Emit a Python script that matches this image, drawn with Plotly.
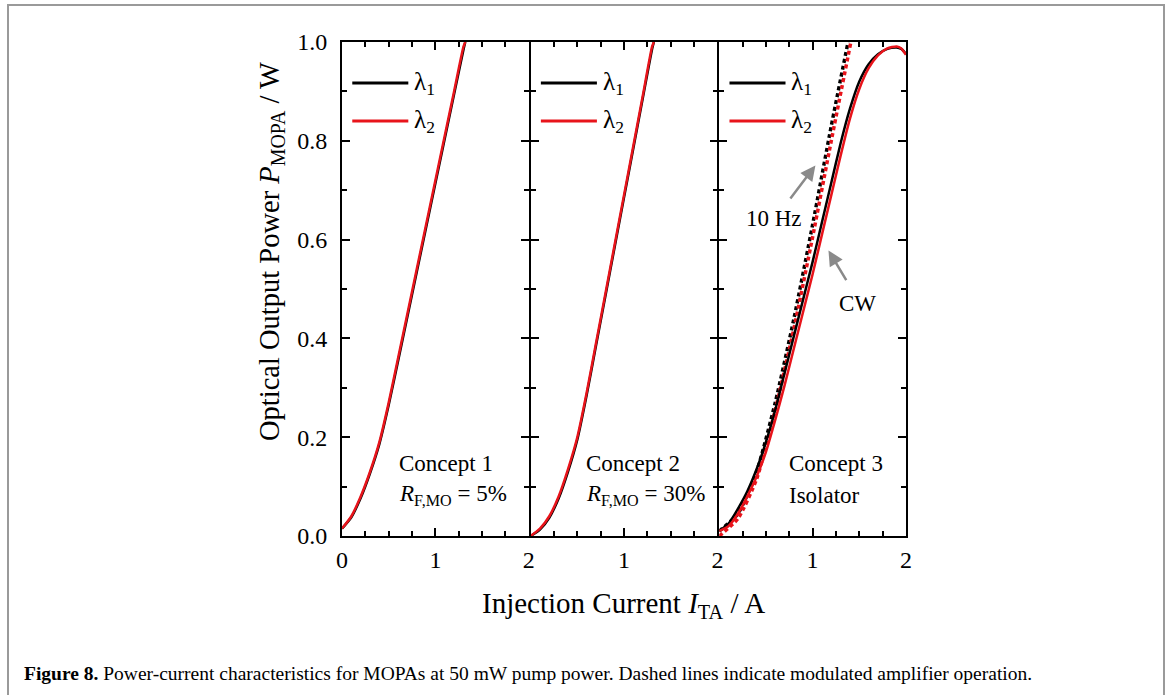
import plotly.graph_objects as go

# ---------------- data ----------------
# Panel 1: Concept 1 (R_F,MO = 5%)
c1_I = [0.0, 0.1, 0.2, 0.3, 0.4, 0.5, 0.6, 0.7, 0.8, 0.9, 1.0, 1.1, 1.2, 1.3, 1.32]
c1_P_l1 = [0.015, 0.038, 0.077, 0.127, 0.186, 0.265, 0.354, 0.444, 0.534, 0.624, 0.714, 0.804, 0.894, 0.984, 1.0]
c1_P_l2 = [0.015, 0.040, 0.080, 0.130, 0.190, 0.270, 0.360, 0.450, 0.540, 0.630, 0.720, 0.810, 0.900, 0.990, 1.0]

# Panel 2: Concept 2 (R_F,MO = 30%)
c2_I = [0.0, 0.1, 0.2, 0.3, 0.4, 0.5, 0.6, 0.7, 0.8, 0.9, 1.0, 1.1, 1.2, 1.3, 1.32]
c2_P_l1 = [0.0, 0.013, 0.037, 0.076, 0.130, 0.195, 0.285, 0.385, 0.485, 0.585, 0.685, 0.785, 0.885, 0.985, 1.0]
c2_P_l2 = [0.0, 0.015, 0.040, 0.080, 0.135, 0.200, 0.290, 0.390, 0.490, 0.590, 0.690, 0.790, 0.890, 0.990, 1.0]

# Panel 3: Concept 3 (Isolator), CW
c3_I = [0.0, 0.1, 0.2, 0.3, 0.4, 0.5, 0.6, 0.7, 0.8, 0.9, 1.0, 1.1, 1.2, 1.3, 1.4,
        1.5, 1.6, 1.7, 1.8, 1.9, 1.95, 2.0]
c3_cw_l1 = [0.01, 0.025, 0.055, 0.09, 0.135, 0.19, 0.255, 0.33, 0.405, 0.48, 0.555, 0.635,
            0.715, 0.795, 0.865, 0.92, 0.955, 0.975, 0.986, 0.989, 0.986, 0.976]
c3_cw_l2 = [0.01, 0.02, 0.045, 0.08, 0.12, 0.17, 0.235, 0.305, 0.38, 0.455, 0.53, 0.61,
            0.69, 0.77, 0.845, 0.905, 0.947, 0.973, 0.987, 0.991, 0.987, 0.974]

# Panel 3: 10 Hz modulated operation (dashed)
c3_mod_I_l1 = [0.0, 0.2, 0.4, 0.6, 0.8, 1.0, 1.2, 1.38]
c3_mod_P_l1 = [0.01, 0.045, 0.13, 0.27, 0.44, 0.63, 0.83, 1.0]
c3_mod_I_l2 = [0.0, 0.2, 0.4, 0.6, 0.8, 1.0, 1.2, 1.41]
c3_mod_P_l2 = [0.0, 0.035, 0.115, 0.255, 0.42, 0.605, 0.80, 1.0]

panel_labels = [("Concept 1", "<i>R</i><sub>F,MO</sub> = 5%"),
                ("Concept 2", "<i>R</i><sub>F,MO</sub> = 30%"),
                ("Concept 3", "Isolator")]
x_tickvals = [[0, 1, 2], [1, 2], [1, 2]]
y_tickvals = [0.0, 0.2, 0.4, 0.6, 0.8, 1.0]
y_ticktext = ["0.0", "0.2", "0.4", "0.6", "0.8", "1.0"]

BLACK = "#000000"
RED = "#e8141b"
FONT = "Liberation Serif"

W, H = 1170, 695
LW = 1.8
# panel pixel extents; gaps of one line width so adjacent axis lines coincide
px_x = [(342, 528.8), (528.8 + LW, 717.4), (717.4 + LW, 906)]
py_top, py_bot = 42, 536

fig = go.Figure()

def add_line(i, x, y, color, dash=None, width=2.5):
    suffix = "" if i == 0 else str(i + 1)
    fig.add_trace(go.Scatter(
        x=x, y=y, mode="lines", xaxis="x" + suffix, yaxis="y" + suffix,
        line=dict(color=color, width=width, shape="spline", smoothing=0.6,
                  dash=dash if dash else "solid"),
        showlegend=False, hoverinfo="skip"))

add_line(0, c1_I, c1_P_l1, BLACK)
add_line(0, c1_I, c1_P_l2, RED)
add_line(1, c2_I, c2_P_l1, BLACK)
add_line(1, c2_I, c2_P_l2, RED)
add_line(2, c3_mod_I_l1, c3_mod_P_l1, BLACK, dash="4px,3px", width=3.5)
add_line(2, c3_mod_I_l2, c3_mod_P_l2, RED, dash="4px,3px", width=3.5)
add_line(2, c3_I, c3_cw_l1, BLACK)
add_line(2, c3_I, c3_cw_l2, RED)

layout = dict(
    template="none",
    width=W, height=H, autosize=False, margin=dict(l=0, r=0, t=0, b=0, pad=0),
    paper_bgcolor="white", plot_bgcolor="white", showlegend=False,
    font=dict(family=FONT, color="black"),
)
ydom = [(H - py_bot) / H, (H - py_top) / H]
minor_x = [0.25, 0.5, 0.75, 1.25, 1.5, 1.75]
minor_y = [0.1, 0.3, 0.5, 0.7, 0.9]
for i in range(3):
    suffix = "" if i == 0 else str(i + 1)
    xd = [px_x[i][0] / W, px_x[i][1] / W]
    layout["xaxis" + suffix] = dict(
        domain=xd, range=[0, 2], anchor="y" + suffix, automargin=False,
        showline=True, linecolor="black", linewidth=LW, mirror="allticks",
        ticks="inside", ticklen=8, tickwidth=2, tickcolor="black",
        tickmode="array", tickvals=x_tickvals[i], ticktext=[str(v) for v in x_tickvals[i]],
        tickfont=dict(family=FONT, size=24, color="black"),
        minor=dict(tickmode="array", tickvals=minor_x, ticks="inside", ticklen=5,
                   tickwidth=2, tickcolor="black", showgrid=False),
        showgrid=False, zeroline=False, fixedrange=True, ticklabelstandoff=1,
    )
    layout["yaxis" + suffix] = dict(
        domain=ydom, range=[0, 1], anchor="x" + suffix, automargin=False,
        showline=True, linecolor="black", linewidth=LW, mirror="allticks",
        ticks="inside", ticklen=8, tickwidth=2, tickcolor="black",
        tickmode="array", tickvals=y_tickvals, ticktext=y_ticktext,
        showticklabels=(i == 0),
        tickfont=dict(family=FONT, size=24, color="black"),
        minor=dict(tickmode="array", tickvals=minor_y, ticks="inside", ticklen=5,
                   tickwidth=2, tickcolor="black", showgrid=False),
        showgrid=False, zeroline=False, fixedrange=True, ticklabelstandoff=8,
    )
fig.update_layout(**layout)

annotations = []
shapes = []
# legends (one per panel)
for i in range(3):
    suffix = "" if i == 0 else str(i + 1)
    for yd, col, lab in [(0.917, BLACK, "λ<sub>1</sub>"), (0.840, RED, "λ<sub>2</sub>")]:
        shapes.append(dict(type="line", xref="x" + suffix + " domain", yref="y" + suffix + " domain",
                           x0=0.055, x1=0.355, y0=yd, y1=yd, line=dict(color=col, width=3)))
        annotations.append(dict(xref="x" + suffix + " domain", yref="y" + suffix + " domain",
                                x=0.375, y=yd, text=lab, showarrow=False, xanchor="left",
                                yanchor="middle", font=dict(family=FONT, size=25, color="black")))
# concept labels
concept_x = [0.59, 0.575, 0.73]
for i in range(3):
    suffix = "" if i == 0 else str(i + 1)
    l1, l2 = panel_labels[i]
    annotations.append(dict(xref="x" + suffix, yref="y" + suffix, x=concept_x[i], y=0.147,
                            text=l1, showarrow=False, xanchor="left", yanchor="middle",
                            font=dict(family=FONT, size=23, color="black")))
    annotations.append(dict(xref="x" + suffix, yref="y" + suffix, x=concept_x[i], y=0.082,
                            text=l2, showarrow=False, xanchor="left", yanchor="middle",
                            font=dict(family=FONT, size=23, color="black")))
# arrows in panel 3
ARROW = "#8a8a8a"
annotations.append(dict(xref="x3", yref="y3", axref="x3", ayref="y3", x=1.03, y=0.75, ax=0.75, ay=0.68,
                        text="", showarrow=True, arrowhead=2, arrowsize=1.2, arrowwidth=2.5,
                        arrowcolor=ARROW))
annotations.append(dict(xref="x3", yref="y3", x=0.59, y=0.643, text="10 Hz", showarrow=False,
                        font=dict(family=FONT, size=23, color="black")))
annotations.append(dict(xref="x3", yref="y3", axref="x3", ayref="y3", x=1.17, y=0.578, ax=1.37, ay=0.515,
                        text="", showarrow=True, arrowhead=2, arrowsize=1.2, arrowwidth=2.5,
                        arrowcolor=ARROW))
annotations.append(dict(xref="x3", yref="y3", x=1.48, y=0.47, text="CW", showarrow=False,
                        font=dict(family=FONT, size=23, color="black")))
# axis titles
annotations.append(dict(xref="paper", yref="paper", x=623 / W, y=1 - 605 / H,
                        text="Injection Current <i>I</i><sub>TA</sub> / A", showarrow=False,
                        xanchor="center", yanchor="middle", font=dict(family=FONT, size=29, color="black")))
annotations.append(dict(xref="paper", yref="paper", x=271 / W, y=1 - 252 / H,
                        text="Optical Output Power <i>P</i><sub>MOPA</sub> / W", showarrow=False,
                        textangle=-90, xanchor="center", yanchor="middle",
                        font=dict(family=FONT, size=28.5, color="black")))
# caption
annotations.append(dict(xref="paper", yref="paper", x=22 / W, y=1 - 673 / H,
                        text="<b>Figure 8.</b> Power-current characteristics for MOPAs at 50 mW pump power. "
                             "Dashed lines indicate modulated amplifier operation.",
                        showarrow=False, xanchor="left", yanchor="middle",
                        font=dict(family=FONT, size=19.5, color="black")))
# outer frame
shapes.append(dict(type="rect", xref="paper", yref="paper", x0=8 / W, x1=1164 / W, y0=-0.05, y1=1 - 5 / H,
                   line=dict(color="#9a9a9a", width=2), fillcolor="rgba(0,0,0,0)", layer="below"))
fig.update_layout(annotations=annotations, shapes=shapes)

fig.write_html("out.html")
